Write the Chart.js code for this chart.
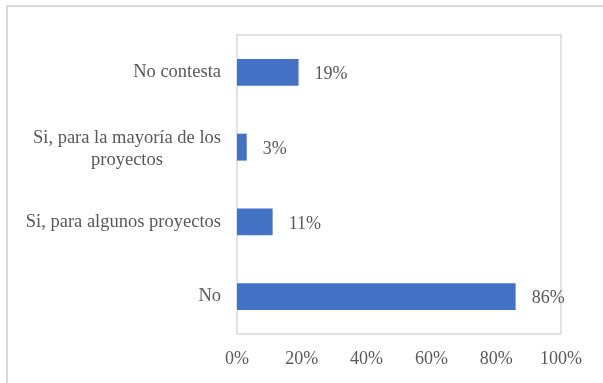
<!DOCTYPE html>
<html lang="es">
<head>
    <meta charset="UTF-8">
    <title>Respuestas</title>
    <script src="https://cdn.jsdelivr.net/npm/chart.js"></script>
    <style>
        html, body { margin: 0; padding: 0; width: 603px; height: 383px; overflow: hidden; background: #fff; }
        .frame { position: absolute; left: 6px; top: 5px; width: 640px; height: 420px; border: 2px solid #d9d9d9; }
        .chart-wrapper { position: absolute; left: 0; top: 0; width: 603px; height: 383px; }
    </style>
</head>
<body>
    <div class="frame"></div>
    <div class="chart-wrapper">
        <canvas id="respuestasChart" width="603" height="383"></canvas>
    </div>

    <script>
        // Categories (top to bottom) and their shares in percent
        const categories = [
            ['No contesta'],
            ['Si, para la mayoría de los', 'proyectos'],
            ['Si, para algunos proyectos'],
            ['No']
        ];
        const percentages = [19, 3, 11, 86];
        const xTicks = [0, 20, 40, 60, 80, 100];

        const FONT = '"Liberation Serif", "Times New Roman", serif';
        const FONT_SIZE = 18;
        const LABEL_SIZE = 18.5;
        const TEXT_COLOR = '#595959';

        // Light gray box around the plot area
        const plotFrame = {
            id: 'plotFrame',
            beforeDatasetsDraw(chart) {
                const { ctx, chartArea: a } = chart;
                ctx.save();
                ctx.strokeStyle = '#d9d9d9';
                ctx.lineWidth = 1.5;
                ctx.strokeRect(a.left, a.top, a.right - a.left, a.bottom - a.top);
                ctx.restore();
            }
        };

        // Category names, wrapped lines centred on each other, block right-aligned to the axis
        const categoryLabels = {
            id: 'categoryLabels',
            afterDraw(chart) {
                const { ctx, chartArea } = chart;
                const yScale = chart.scales.y;
                const lineHeight = 22;
                const rightEdge = chartArea.left - 16;
                ctx.save();
                ctx.font = `${LABEL_SIZE}px ${FONT}`;
                ctx.fillStyle = TEXT_COLOR;
                ctx.textAlign = 'center';
                ctx.textBaseline = 'middle';
                categories.forEach((lines, i) => {
                    const y = yScale.getPixelForValue(i) + (lines.length > 1 ? 2 : 0);
                    const maxW = Math.max(...lines.map(l => ctx.measureText(l).width));
                    const cx = rightEdge - maxW / 2;
                    lines.forEach((line, j) => {
                        ctx.fillText(line, cx, y + (j - (lines.length - 1) / 2) * lineHeight);
                    });
                });
                ctx.restore();
            }
        };

        // Percentage labels just past the end of each bar
        const valueLabels = {
            id: 'valueLabels',
            afterDatasetsDraw(chart) {
                const { ctx } = chart;
                const meta = chart.getDatasetMeta(0);
                ctx.save();
                ctx.font = `${FONT_SIZE}px ${FONT}`;
                ctx.fillStyle = TEXT_COLOR;
                ctx.textAlign = 'left';
                ctx.textBaseline = 'middle';
                meta.data.forEach((bar, i) => {
                    ctx.fillText(percentages[i] + '%', bar.x + 16, bar.y + 2);
                });
                ctx.restore();
            }
        };

        const ctx = document.getElementById('respuestasChart').getContext('2d');
        new Chart(ctx, {
            type: 'bar',
            data: {
                labels: categories,
                datasets: [{
                    data: percentages,
                    backgroundColor: '#4472C4',
                    barPercentage: 1,
                    categoryPercentage: 0.36
                }]
            },
            options: {
                indexAxis: 'y',
                responsive: false,
                devicePixelRatio: 1,
                animation: false,
                layout: {
                    padding: { top: 35, right: 42, left: 0, bottom: 0 }
                },
                scales: {
                    x: {
                        min: 0,
                        max: 100,
                        afterBuildTicks: (scale) => {
                            scale.ticks = xTicks.map(v => ({ value: v }));
                        },
                        afterFit: (scale) => {
                            scale.height = 49;
                        },
                        grid: { display: false, drawTicks: false },
                        border: { display: false },
                        ticks: {
                            padding: 14,
                            color: TEXT_COLOR,
                            font: { family: FONT, size: FONT_SIZE },
                            maxRotation: 0,
                            callback: (v) => v + '%'
                        }
                    },
                    y: {
                        afterFit: (scale) => {
                            scale.width = 237;
                        },
                        grid: { display: false, drawTicks: false },
                        border: { display: false },
                        ticks: { display: false }
                    }
                },
                plugins: {
                    legend: { display: false },
                    tooltip: { enabled: false }
                }
            },
            plugins: [plotFrame, categoryLabels, valueLabels]
        });
    </script>
</body>
</html>
